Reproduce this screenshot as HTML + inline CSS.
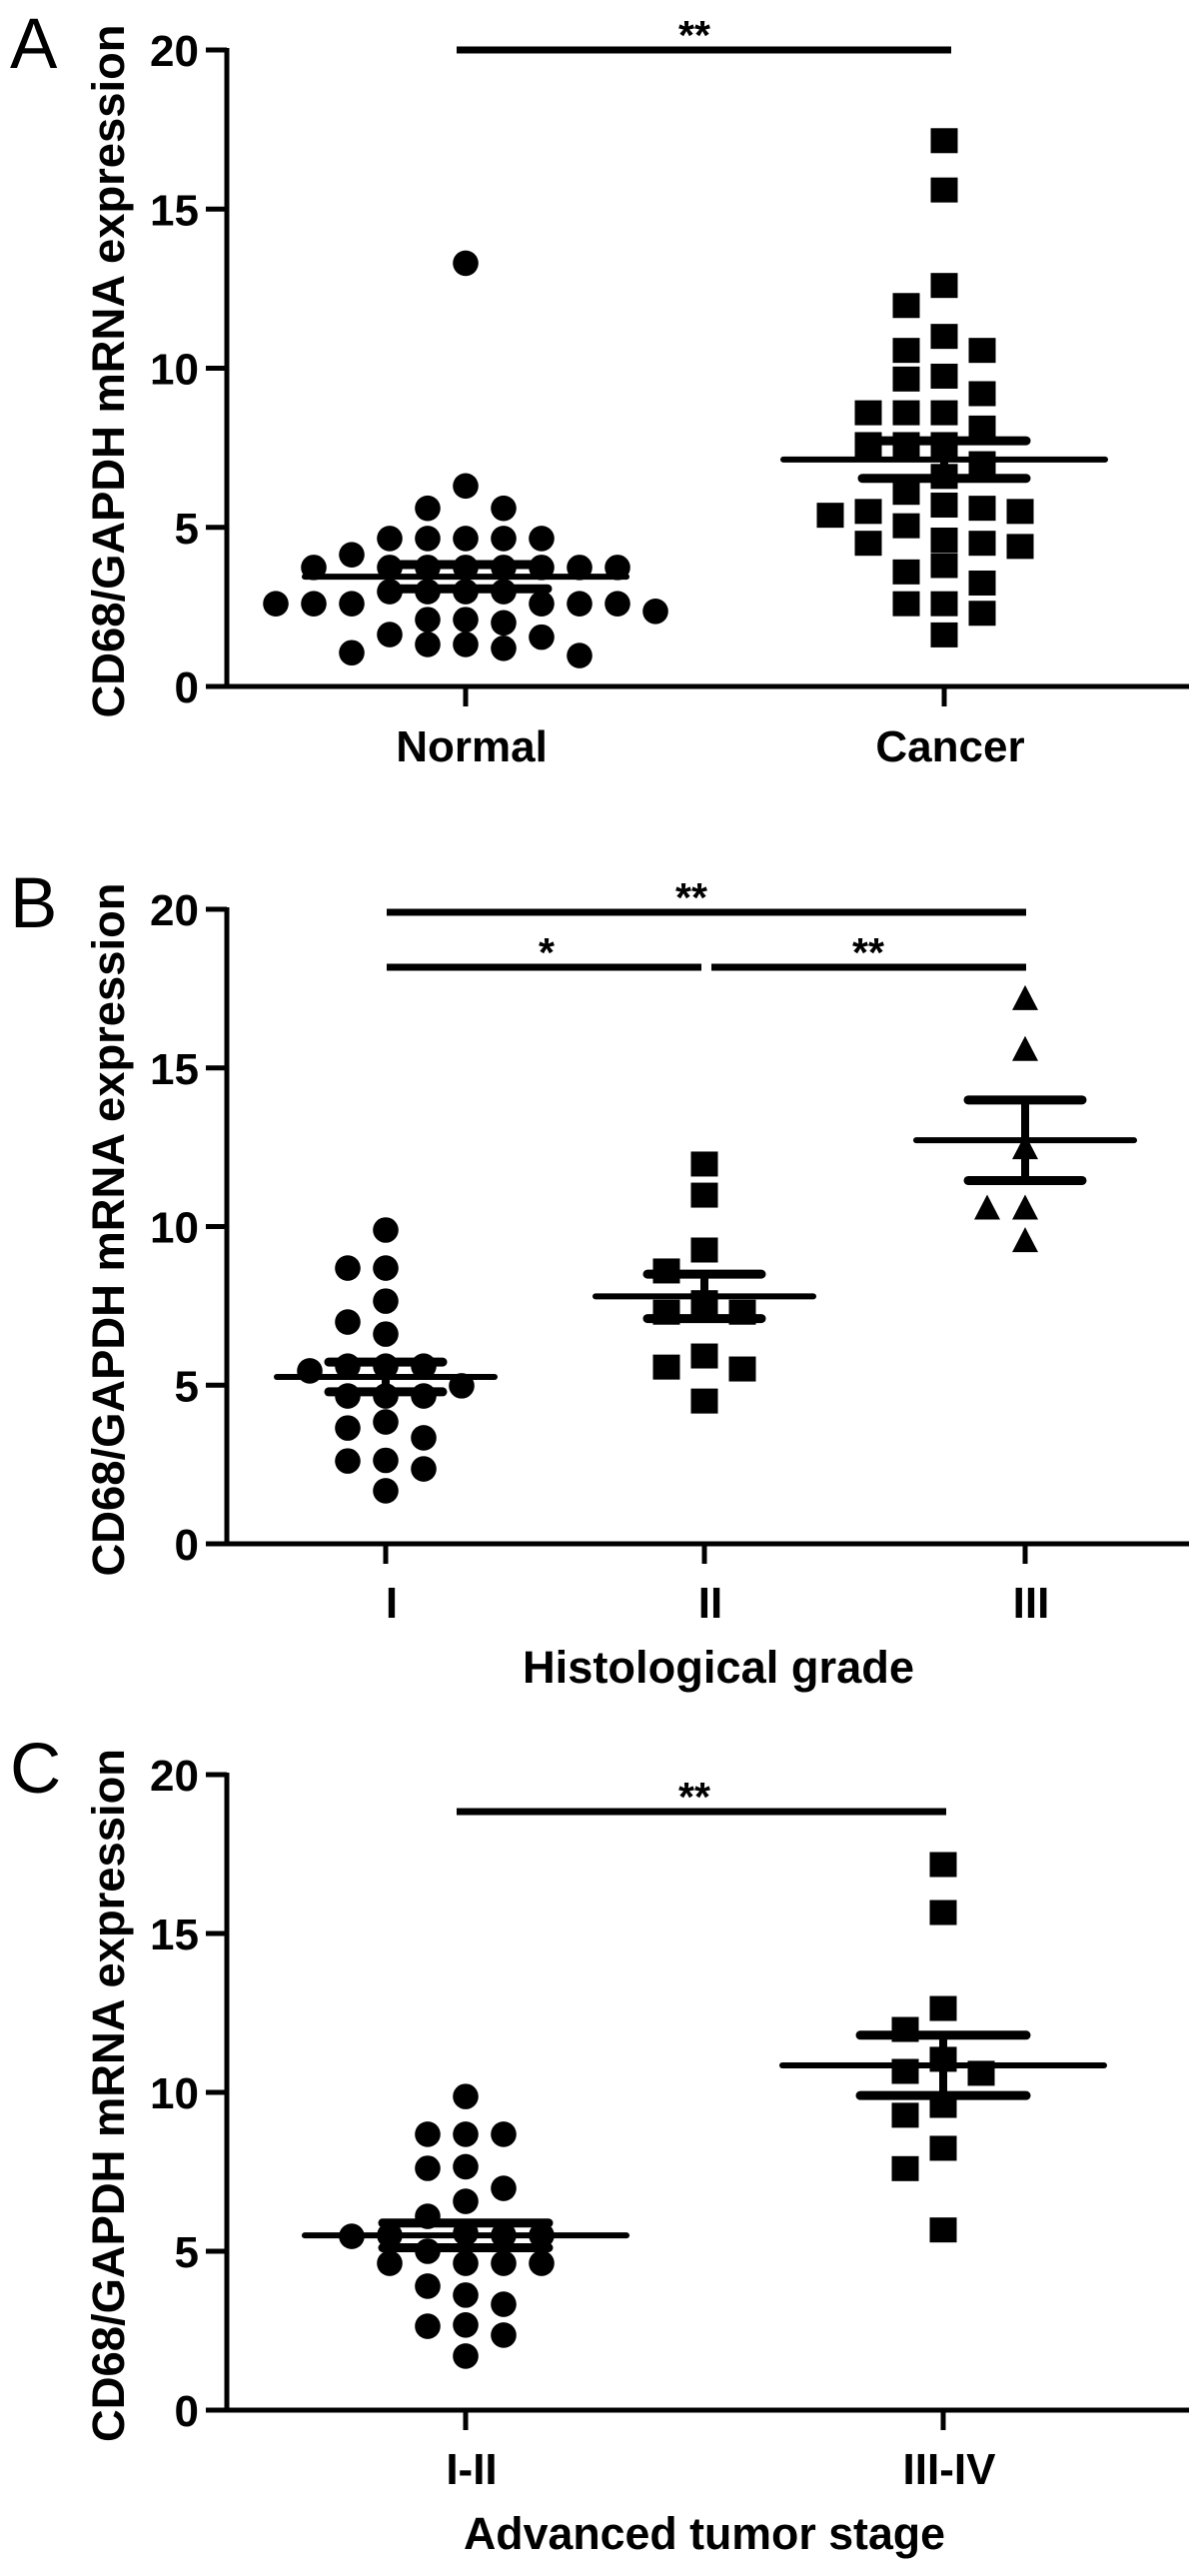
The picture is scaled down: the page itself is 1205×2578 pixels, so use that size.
<!DOCTYPE html>
<html><head><meta charset="utf-8"><style>
html,body{margin:0;padding:0;background:#fff;}
svg{display:block;}
text{font-family:"Liberation Sans",Arial,sans-serif;fill:#000;}
</style></head><body>
<svg id="fig" xmlns="http://www.w3.org/2000/svg" width="1205" height="2578" viewBox="0 0 1205 2578"></svg>
<script>
// ---- data ----
const yTicks = [0, 5, 10, 15, 20];
const panelACategories = ["Normal", "Cancer"];
const normalValues = [13.3, 6.3, 5.6, 5.6, 4.65, 4.65, 4.65, 4.65, 4.65, 4.14, 3.74, 3.74, 3.74, 3.74, 3.74, 3.74, 3.74, 3.74, 2.98, 2.98, 2.98, 2.98, 2.6, 2.6, 2.6, 2.6, 2.6, 2.6, 2.36, 2.1, 2.1, 2.0, 1.63, 1.55, 1.32, 1.32, 1.2, 1.06, 0.97];
const cancerValues = [17.15, 15.6, 12.6, 11.97, 11.0, 10.56, 10.56, 9.75, 9.66, 9.2, 8.6, 8.6, 8.6, 8.12, 7.6, 7.6, 7.6, 7.0, 6.6, 6.1, 5.7, 5.6, 5.5, 5.5, 5.38, 5.05, 4.6, 4.5, 4.5, 4.4, 3.8, 3.6, 3.25, 2.6, 2.6, 2.3, 1.62];
const panelAMeans = [3.45, 7.13];
const panelASems = [0.38, 0.59];

const panelBCategories = ["I", "II", "III"];
const gradeIValues = [9.89, 8.69, 8.69, 7.65, 6.99, 6.61, 5.6, 5.6, 5.6, 5.45, 4.98, 4.66, 4.66, 4.66, 3.84, 3.65, 3.34, 2.63, 2.61, 2.36, 1.67];
const gradeIIValues = [11.97, 10.99, 9.26, 8.6, 7.6, 7.3, 7.3, 5.92, 5.57, 5.51, 4.5];
const gradeIIIValues = [17.2, 15.6, 12.5, 10.6, 10.6, 9.57];
const panelBMeans = [5.26, 7.8, 12.72];
const panelBSems = [0.47, 0.7, 1.27];

const panelCCategories = ["I-II", "III-IV"];
const stageLowValues = [9.87, 8.68, 8.68, 8.68, 7.66, 7.61, 6.98, 6.57, 6.1, 5.57, 5.5, 5.5, 5.5, 5.47, 5.0, 4.62, 4.62, 4.62, 4.62, 3.9, 3.62, 3.33, 2.68, 2.64, 2.36, 1.7];
const stageHighValues = [17.17, 15.66, 12.64, 11.98, 11.04, 10.66, 10.6, 9.59, 9.28, 8.24, 7.6, 5.67];
const panelCMeans = [5.5, 10.85];
const panelCSems = [0.39, 0.95];

// ---- drawing ----
const NS = "http://www.w3.org/2000/svg";
const svg = document.getElementById("fig");
function mk(tag, attrs, parent) {
  const e = document.createElementNS(NS, tag);
  for (const k in attrs) e.setAttribute(k, attrs[k]);
  (parent || svg).appendChild(e);
  return e;
}
function txt(str, attrs, parent) { const t = mk("text", attrs, parent); t.textContent = str; return t; }

function drawPanel(cfg) {
  const g = mk("g", {});
  
  
  const y = v => cfg.y0 - (v / 20) * (cfg.y0 - cfg.y20);
  const AX = 227;
  const L = txt(cfg.letter, {x: 10, y: cfg.y20 + 18, "font-size": 71}, g);
  
  
  const mid = (cfg.y20 + cfg.y0) / 2 + 3;
  const yt = txt("CD68/GAPDH mRNA expression", {x: 0, y: 0, "font-size": 45, "font-weight": "bold", "text-anchor": "middle", textLength: 694, lengthAdjust: "spacingAndGlyphs", transform: `translate(124,${mid}) rotate(-90)`}, g);
  
  
  const ya = mk("line", {x1: AX, y1: cfg.y20 - 2, x2: AX, y2: cfg.y0 + 2, stroke: "#000", "stroke-width": 5}, g);
  
  
  const xa = mk("line", {x1: AX - 2, y1: cfg.y0, x2: 1190, y2: cfg.y0, stroke: "#000", "stroke-width": 5}, g);
  
  
  yTicks.forEach(t => {
    const tl = mk("line", {x1: 206, y1: y(t), x2: AX, y2: y(t), stroke: "#000", "stroke-width": 5}, g);
    
    
    const lb = txt(String(t), {x: 199, y: y(t) + 16, "font-size": 44, "font-weight": "bold", "text-anchor": "end"}, g);
    
    
  });
  cfg.cats.forEach((c, i) => {
    const cx = cfg.xs[i];
    const tk = mk("line", {x1: cx, y1: cfg.y0, x2: cx, y2: cfg.y0 + 20, stroke: "#000", "stroke-width": 5}, g);
    
    
    const lb = txt(c, {x: cx + 6, y: cfg.y0 + cfg.labOff, "font-size": 44, "font-weight": "bold", "text-anchor": "middle"}, g);
    
    
  });
  if (cfg.xtitle) {
    const xt = txt(cfg.xtitle, {x: cfg.xtitleX, y: cfg.y0 + 139, "font-size": 45, "font-weight": "bold", "text-anchor": "middle", textLength: cfg.xtitleW, lengthAdjust: "spacingAndGlyphs"}, g);
    
    
  }
  cfg.series.forEach((vals, si) => {
    const cx = cfg.xs[si];
    const placed = [];
    const sg = mk("g", {}, g);
    
    
    vals.forEach(v => {
      const py = y(v);
      let chosen = 0;
      for (let k = 0; k < 40; k++) {
        const off = (k % 2 === 0 ? 1 : -1) * Math.ceil(k / 2) * 19;
        const ok = placed.every(p => !(Math.abs(p[0] - off) < 30 && Math.abs(p[1] - py) < 24));
        if (ok) { chosen = off; break; }
      }
      placed.push([chosen, py]);
      const px = cx + chosen;
      let m;
      if (cfg.shapes[si] === "circle") m = mk("circle", {cx: px, cy: py, r: 12.8, fill: "#000"}, sg);
      else if (cfg.shapes[si] === "square") m = mk("rect", {x: px - 13.5, y: py - 12.5, width: 27, height: 25, fill: "#000"}, sg);
      else m = mk("polygon", {points: `${px},${py - 13} ${px + 13},${py + 12} ${px - 13},${py + 12}`, fill: "#000"}, sg);
      
      
    });
  });
  cfg.means.forEach((mv, i) => {
    const cx = cfg.xs[i], s = cfg.sems[i];
    const ml = mk("line", {x1: cx - cfg.meanHW, y1: y(mv), x2: cx + cfg.meanHW, y2: y(mv), stroke: "#000", "stroke-width": 6, "stroke-linecap": "round"}, g);
    
    
    const vl = mk("line", {x1: cx, y1: y(mv + s), x2: cx, y2: y(mv - s), stroke: "#000", "stroke-width": 8}, g);
    
    
    [mv + s, mv - s].forEach(e => {
      const el = mk("line", {x1: cx - cfg.semHW, y1: y(e), x2: cx + cfg.semHW, y2: y(e), stroke: "#000", "stroke-width": 9, "stroke-linecap": "round"}, g);
      
      
    });
  });
  cfg.sig.forEach(s => {
    const b = mk("line", {x1: s.x1, y1: s.y, x2: s.x2, y2: s.y, stroke: "#000", "stroke-width": 7}, g);
    
    
    const t = txt(s.label, {x: s.tx, y: s.y - 1, "font-size": 41, "font-weight": "bold", "text-anchor": "middle"}, g);
    
    
  });
}

drawPanel({name: "panel-a", letter: "A", y20: 50, y0: 687, cats: panelACategories, xs: [466, 945],
  series: [normalValues, cancerValues], shapes: ["circle", "square"], means: panelAMeans, sems: panelASems,
  meanHW: 161, semHW: 82, labOff: 75,
  sig: [{x1: 457, x2: 952, y: 50, tx: 695, label: "**"}]});

drawPanel({name: "panel-b", letter: "B", y20: 910, y0: 1545, cats: panelBCategories, xs: [386, 705, 1026],
  series: [gradeIValues, gradeIIValues, gradeIIIValues], shapes: ["circle", "square", "triangle"], means: panelBMeans, sems: panelBSems,
  meanHW: 109, semHW: 57, labOff: 74, xtitle: "Histological grade", xtitleX: 719, xtitleW: 392,
  sig: [{x1: 387, x2: 1027, y: 913, tx: 692, label: "**"},
        {x1: 387, x2: 702, y: 968, tx: 547, label: "*"},
        {x1: 712, x2: 1027, y: 968, tx: 869, label: "**"}]});

drawPanel({name: "panel-c", letter: "C", y20: 1776, y0: 2412, cats: panelCCategories, xs: [466, 944],
  series: [stageLowValues, stageHighValues], shapes: ["circle", "square"], means: panelCMeans, sems: panelCSems,
  meanHW: 161, semHW: 83, labOff: 74, xtitle: "Advanced tumor stage", xtitleX: 705, xtitleW: 482,
  sig: [{x1: 457, x2: 947, y: 1813, tx: 695, label: "**"}]});
</script>
</body></html>
